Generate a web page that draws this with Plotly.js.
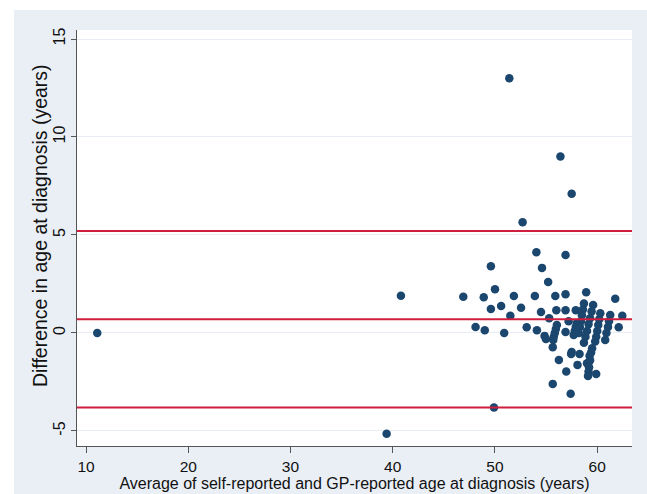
<!DOCTYPE html>
<html>
<head>
<meta charset="utf-8">
<script src="https://cdn.plot.ly/plotly-3.0.1.min.js"></script>
<style>
  html, body { margin: 0; padding: 0; background: #ffffff; width: 647px; height: 494px; overflow: hidden; }
  #chart { position: absolute; left: 14px; top: 10px; width: 633px; height: 484px; }
</style>
</head>
<body>
<div id="chart"></div>
<script>
// Average of self-reported and GP-reported age at diagnosis (years)
const avgAge = [
  11.1, 39.4, 40.8, 46.9, 48.1, 48.9, 49.0, 49.6, 49.6, 50.0,
  49.9, 50.6, 50.9, 51.4, 51.5, 51.85, 52.55, 52.7, 53.1, 53.9,
  54.05, 54.1, 54.5, 54.6, 54.85, 54.98, 55.2, 55.3, 55.65, 55.65,
  55.9, 56.0, 56.25, 56.4, 56.9, 56.9, 56.9, 56.9, 56.97, 57.2,
  57.4, 57.5, 57.5, 57.45, 57.9, 58.07, 58.27, 58.92, 59.0, 59.15,
  59.25, 59.5, 59.9, 61.76, 62.1, 62.45,
  56.05, 55.95, 55.85, 55.75, 55.7,
  58.0, 57.9, 57.8, 57.7,
  58.7, 58.6, 58.5, 58.4, 58.3, 58.2,
  59.6, 59.45, 59.3, 59.15, 59.0, 58.85, 58.7,
  60.3, 60.2, 60.1, 60.0, 59.9, 59.8,
  61.27, 61.15, 61.05, 60.9, 60.78,
  59.4, 59.3, 59.2, 59.1
];
// Difference in age at diagnosis (years)
const diffAge = [
  0.0, -5.15, 1.9, 1.85, 0.3, 1.82, 0.14, 3.4, 1.22, 2.23,
  -3.8, 1.38, 0.0, 13.0, 0.88, 1.89, 1.28, 5.65, 0.29, 1.89,
  4.12, 0.14, 1.07, 3.32, -0.15, -0.31, 2.6, 0.75, -0.73, -2.6,
  1.89, 1.16, -1.38, 9.0, 3.98, 1.97, 1.16, 0.05, -1.97, 0.6,
  -3.1, 7.1, -0.97, -1.08, 1.16, -1.63, -1.07, 2.08, -1.55, -1.97,
  -1.17, -0.78, -2.09, 1.75, 0.29, 0.88,
  0.41, 0.2, 0.0, -0.2, -0.36,
  0.49, 0.3, 0.1, -0.1,
  1.5, 1.2, 0.9, 0.6, 0.3, 0.0,
  1.43, 1.1, 0.75, 0.45, 0.1, -0.2, -0.5,
  1.0, 0.7, 0.4, 0.1, -0.2, -0.44,
  0.92, 0.6, 0.3, 0.0, -0.36,
  -1.0, -1.4, -1.75, -2.2
];
// Mean difference and limits of agreement
const meanDiff = 0.70;
const upperLoA = 5.2;
const lowerLoA = -3.8;

const xTicks = [10, 20, 30, 40, 50, 60];
const yTicks = [-5, 0, 5, 10, 15];
const xRange = [9.12, 63.4];
const yRange = [-5.77, 15.46];

const refLines = [upperLoA, meanDiff, lowerLoA];

const traces = [{
  type: 'scatter',
  mode: 'markers',
  x: avgAge,
  y: diffAge,
  marker: { color: '#1b466e', size: 8.5, line: { width: 0 } },
  hoverinfo: 'x+y',
  showlegend: false
}];

refLines.forEach(v => {
  traces.push({
    type: 'scatter',
    mode: 'lines',
    x: xRange,
    y: [v, v],
    line: { color: '#d01f3e', width: 2 },
    hoverinfo: 'skip',
    showlegend: false
  });
});

const layout = {
  width: 633,
  height: 484,
  margin: { l: 63, r: 15, t: 20, b: 48, pad: 0 },
  paper_bgcolor: '#eaeff5',
  plot_bgcolor: '#ffffff',
  font: { family: 'Liberation Sans, Arial, sans-serif', size: 15, color: '#111111' },
  showlegend: false,
  xaxis: {
    range: xRange,
    tickvals: xTicks,
    ticktext: xTicks.map(String),
    ticks: 'outside',
    ticklen: 6,
    tickcolor: '#555555',
    tickwidth: 1,
    showline: true,
    linecolor: '#555555',
    linewidth: 1,
    showgrid: false,
    zeroline: false,
    tickfont: { size: 15.5 },
    title: { text: 'Average of self-reported and GP-reported age at diagnosis (years)', font: { size: 16 }, standoff: 0 },
    automargin: false
  },
  yaxis: {
    range: yRange,
    tickvals: yTicks,
    ticktext: yTicks.map(String),
    ticks: 'outside',
    ticklen: 5,
    tickcolor: '#555555',
    tickwidth: 1,
    tickangle: -90,
    showline: true,
    linecolor: '#555555',
    linewidth: 1,
    showgrid: true,
    gridcolor: '#e7edf3',
    gridwidth: 1,
    zeroline: false,
    tickfont: { size: 16 },
    automargin: false
  },
  annotations: [{
    text: 'Difference in age at diagnosis (years)',
    xref: 'paper', yref: 'paper',
    x: -0.0667, y: 0.531,
    xanchor: 'center', yanchor: 'middle',
    textangle: -90,
    showarrow: false,
    font: { size: 19.5, color: '#111111' }
  }]
};

Plotly.newPlot('chart', traces, layout, { displayModeBar: false, staticPlot: true });
</script>
</body>
</html>
